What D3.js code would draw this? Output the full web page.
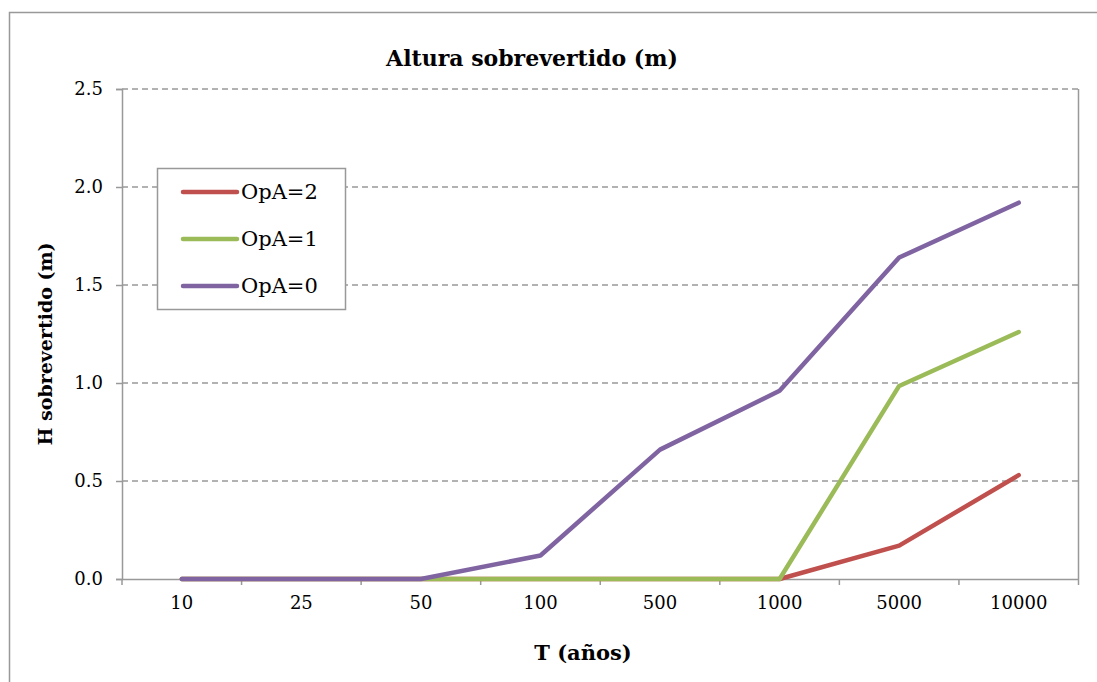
<!DOCTYPE html>
<html><head><meta charset="utf-8">
<script src="https://cdn.jsdelivr.net/npm/d3@7"></script>
<style>body{margin:0;background:#fff;}svg{display:block;}</style>
</head><body>
<svg id="c" width="1097" height="682"></svg>
<script>
const categories = ["10","25","50","100","500","1000","5000","10000"];
const opa2 = [0,0,0,0,0,0,0.17,0.53];
const opa1 = [0,0,0,0,0,0,0.985,1.26];
const opa0 = [0,0,0,0.12,0.66,0.96,1.64,1.92];
const yTicks = [0,0.5,1.0,1.5,2.0,2.5];
const seriesNames = ["OpA=2","OpA=1","OpA=0"];
const seriesColors = ["#c0504d","#9bbb59","#8064a2"];
const seriesData = [opa2, opa1, opa0];

const svg = d3.select("#c");
const font = "'DejaVu Serif', serif";
const L=122, R=1078.5, T=89, B=579;

svg.append("rect").attr("x",9.5).attr("y",12.5).attr("width",1200).attr("height",800)
  .attr("fill","none").attr("stroke","#999").attr("stroke-width",1.5);

const x = d3.scaleBand().domain(categories).range([L,R]);
const y = d3.scaleLinear().domain([0,2.5]).range([B,T]);

// gridlines
svg.append("g").selectAll("line").data(yTicks.filter(d=>d>0)).join("line")
  .attr("x1",L).attr("x2",R).attr("y1",d=>y(d)).attr("y2",d=>y(d))
  .attr("stroke","#999").attr("stroke-width",1.5).attr("stroke-dasharray","6,4");

// right border
svg.append("line").attr("x1",R).attr("x2",R).attr("y1",T).attr("y2",B)
  .attr("stroke","#999").attr("stroke-width",1.5);

// y axis
const ya = svg.append("g").attr("transform",`translate(${L},0)`)
  .call(d3.axisLeft(y).tickValues(yTicks).tickFormat(d3.format(".1f")).tickSize(6).tickPadding(13));
ya.select(".domain").attr("stroke","#999").attr("stroke-width",1.5);
ya.selectAll(".tick line").attr("stroke","#999").attr("stroke-width",1.5);
ya.selectAll("text").attr("font-family",font).attr("font-size",18).attr("fill","#000");

// x axis
const xa = svg.append("g").attr("transform",`translate(0,${B})`)
  .call(d3.axisBottom(x).tickSize(0).tickPadding(17));
xa.select(".domain").attr("stroke","#999").attr("stroke-width",1.5);
xa.selectAll("text").attr("font-family",font).attr("font-size",18).attr("fill","#000");
const bounds = categories.map(c=>x(c)).concat([R]);
svg.append("g").selectAll("line").data(bounds).join("line")
  .attr("x1",d=>d).attr("x2",d=>d).attr("y1",B).attr("y2",B+6)
  .attr("stroke","#999").attr("stroke-width",1.5);

// lines
const line = d3.line().x((d,i)=>x(categories[i])+x.bandwidth()/2).y(d=>y(d));
seriesData.forEach((s,k)=>{
  svg.append("path").datum(s).attr("d",line).attr("fill","none")
    .attr("stroke",seriesColors[k]).attr("stroke-width",4.5)
    .attr("stroke-linejoin","round").attr("stroke-linecap","round");
});

// titles
svg.append("text").attr("x",532).attr("y",66).attr("text-anchor","middle")
  .attr("font-family",font).attr("font-weight","bold").attr("font-size",22).text("Altura sobrevertido (m)");
svg.append("text").attr("x",583).attr("y",660).attr("text-anchor","middle")
  .attr("font-family",font).attr("font-weight","bold").attr("font-size",21).text("T (años)");
svg.append("text").attr("transform","translate(52,344) rotate(-90)").attr("text-anchor","middle")
  .attr("font-family",font).attr("font-weight","bold").attr("font-size",19).text("H sobrevertido (m)");

// legend
const lg = svg.append("g");
lg.append("rect").attr("x",157.5).attr("y",168.5).attr("width",188).attr("height",141)
  .attr("fill","#fff").attr("stroke","#999").attr("stroke-width",1.5);
seriesNames.forEach((n,k)=>{
  const yy = 192 + k*47;
  lg.append("line").attr("x1",183).attr("x2",237).attr("y1",yy).attr("y2",yy)
    .attr("stroke",seriesColors[k]).attr("stroke-width",4.5).attr("stroke-linecap","round");
  lg.append("text").attr("x",241).attr("y",yy+7).attr("font-family",font).attr("font-size",21)
    .attr("fill","#000").text(n);
});
</script>
</body></html>
